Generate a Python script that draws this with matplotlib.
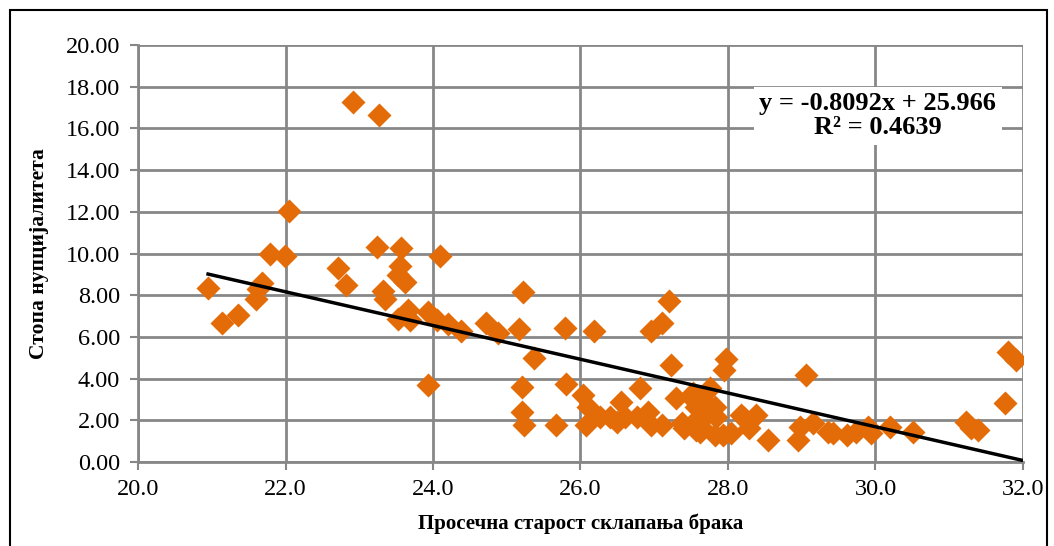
import numpy as np
import matplotlib
matplotlib.use("Agg")
import matplotlib.pyplot as plt
from matplotlib.patches import Rectangle

# average age at marriage vs nuptiality rate
age = [20.95, 21.14, 21.36, 21.60, 21.68, 21.63, 21.79, 21.99, 22.05, 22.91,
       23.27, 22.71, 22.82, 23.24, 23.32, 23.35, 23.56, 23.55, 23.52, 23.62,
       23.52, 23.66, 23.69, 23.93, 23.93, 24.09, 24.05, 24.21, 24.38, 24.72,
       24.88, 25.17, 25.22, 25.37, 25.79, 26.18, 25.21, 25.80, 25.21, 26.03,
       26.80, 26.96, 27.11, 27.20, 27.23, 27.97, 27.95, 25.24, 25.67, 26.08,
       26.10, 26.26, 26.40, 26.49, 26.55, 26.60, 26.76, 26.91, 26.96, 27.10,
       27.30, 27.37, 27.50, 27.57, 27.59, 27.57, 27.66, 27.75, 27.73, 27.82,
       27.84, 27.82, 27.93, 28.04, 28.18, 28.29, 28.38, 28.54, 27.52, 27.64,
       27.40, 27.62, 28.22, 29.06, 28.95, 28.97, 29.15, 29.35, 29.42, 29.62,
       29.74, 29.90, 29.94, 30.19, 30.51, 31.23, 31.30, 31.39, 31.75, 31.79,
       31.91]
rate = [8.35, 6.67, 7.05, 7.80, 8.60, 8.30, 9.98, 9.88, 12.04, 17.27,
        16.64, 9.30, 8.49, 10.31, 8.20, 7.82, 10.25, 9.40, 8.97, 8.63,
        6.85, 7.29, 6.81, 7.19, 3.69, 9.88, 6.81, 6.62, 6.28, 6.65,
        6.17, 6.36, 8.17, 4.97, 6.44, 6.30, 3.61, 3.74, 2.40, 3.21,
        3.53, 6.28, 6.65, 7.72, 4.65, 4.93, 4.41, 1.77, 1.77, 1.77,
        2.65, 2.17, 2.17, 1.93, 2.89, 2.17, 2.17, 2.41, 1.77, 1.77,
        3.05, 1.86, 3.13, 2.65, 2.10, 1.53, 2.97, 3.53, 2.34, 2.65,
        2.17, 1.29, 1.29, 1.37, 2.25, 1.61, 2.25, 1.05, 3.29, 1.70,
        1.65, 1.45, 2.10, 4.17, 1.05, 1.69, 1.86, 1.45, 1.37, 1.29,
        1.45, 1.69, 1.37, 1.69, 1.45, 1.93, 1.61, 1.53, 2.84, 5.29,
        4.89]

slope = -0.8092
intercept = 25.966
r2 = 0.4639

orange = "#E36C09"
grid_col = "#878787"

plt.rcParams["font.family"] = ["Liberation Serif", "DejaVu Serif"]

fig = plt.figure(figsize=(10.54, 5.46), dpi=100)
ax = fig.add_axes([138 / 1054, 1 - 462 / 546, (1023 - 138) / 1054, (462 - 45) / 546])

ax.scatter(age, rate, marker="D", s=150, color=orange, linewidths=0, zorder=3)

# trendline
xs = np.array([min(age), 32.0])
ax.plot(xs, slope * xs + intercept, color="black", lw=2.5, zorder=4)

ax.set_xlim(20, 32)
ax.set_ylim(0, 20)
ax.set_xticks(np.arange(20, 32.1, 2))
ax.set_yticks(np.arange(0, 20.1, 2))
ax.xaxis.set_major_formatter(matplotlib.ticker.FormatStrFormatter("%.1f"))
ax.yaxis.set_major_formatter(matplotlib.ticker.FormatStrFormatter("%.2f"))
ax.grid(True, color=grid_col, lw=2)
ax.set_axisbelow(True)
for s in ["top", "right"]:
    ax.spines[s].set_visible(False)
for s in ["left", "bottom"]:
    ax.spines[s].set_color(grid_col)
    ax.spines[s].set_linewidth(2)
ax.tick_params(axis="both", colors=grid_col, length=6, width=1.5, labelsize=17.5,
               labelcolor="black")
ax.tick_params(axis="y", pad=7)
ax.tick_params(axis="x", pad=6)

ax.set_xlabel("Просечна старост склапања брака", fontsize=15, fontweight="bold", labelpad=10)
ax.set_ylabel("Стопа нупцијалитета", fontsize=15.5, fontweight="bold", labelpad=12)

ax.text(0.836, 0.83, "y = -0.8092x + 25.966\nR² = 0.4639", transform=ax.transAxes,
        ha="center", va="center", fontsize=19, fontweight="bold", linespacing=1.05,
        bbox=dict(facecolor="white", edgecolor="none", pad=4), zorder=5)

# chart border
fig.patches.append(Rectangle((10 / 1054, -0.02), 1037 / 1054, 1.02 - 10 / 546,
                             transform=fig.transFigure, fill=False,
                             edgecolor="black", lw=1.5))

fig.savefig("out.png", dpi=100)
